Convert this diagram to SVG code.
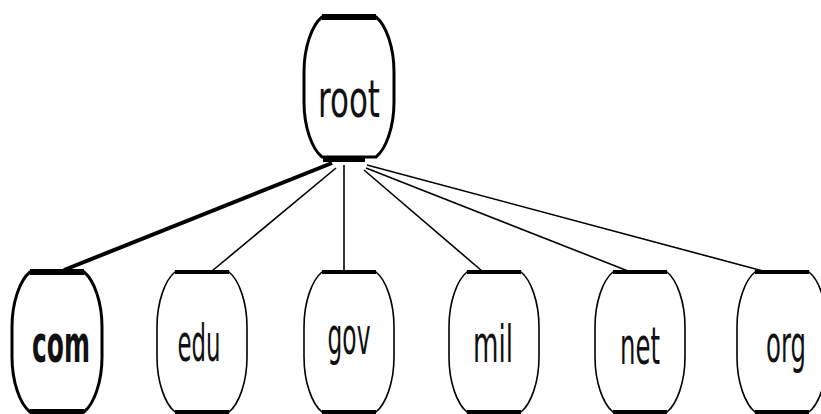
<svg xmlns="http://www.w3.org/2000/svg" xmlns:xlink="http://www.w3.org/1999/xlink" width="821" height="414" viewBox="0 0 821 414">
  <style>
    .shell { fill: #fff; stroke: #000; stroke-width: 1.6; }
    .bold .shell { stroke-width: 3; }
    .bar { stroke: #000; stroke-width: 4; stroke-linecap: butt; }
    .bold .bar { stroke-width: 6; }
    .label { font-family: "DejaVu Sans", "Liberation Sans", sans-serif; font-size: 30px; fill: #111; text-anchor: middle; }
    .bold .label { font-weight: bold; }
    .link { stroke: #000; stroke-width: 1.6; fill: none; }
    .link.heavy { stroke-width: 4; }
  </style>
  <defs>
    <!-- barrel-shaped domain node, centred on x=0, top edge at y=0 -->
    <path id="barrel" d="M-27,0 H27 C37,8 45,30 45,55 V85 C45,110 37,132 27,140 H-27 C-37,132 -45,110 -45,85 V55 C-45,30 -37,8 -27,0 Z"/>
  </defs>
  <rect width="821" height="414" fill="#fff"/>

  <g id="connectors">
    <line class="link heavy" x1="332" y1="163" x2="64" y2="270"/>
    <line class="link" x1="336" y1="168" x2="212" y2="271"/>
    <line class="link" x1="344" y1="165" x2="344" y2="272"/>
    <line class="link" x1="364" y1="170" x2="482" y2="271"/>
    <line class="link" x1="366" y1="168" x2="628" y2="271"/>
    <line class="link" x1="367" y1="165" x2="763" y2="271"/>
  </g>

  <g id="root" class="bold" transform="translate(349,17)">
    <use href="#barrel" class="shell"/>
    <line class="bar" x1="-27" y1="0" x2="27" y2="0"/>
    <line class="bar" x1="-26" y1="142" x2="16" y2="142"/>
    <text class="label" transform="translate(0,100) scale(1,1.73)" textLength="62" lengthAdjust="spacingAndGlyphs" style="font-weight:500">root</text>
  </g>

  <g id="com" class="bold" transform="translate(57,272)">
    <use href="#barrel" class="shell"/>
    <line class="bar" x1="-27" y1="0" x2="27" y2="0"/>
    <line class="bar" x1="-27" y1="140" x2="27" y2="140"/>
    <text class="label" transform="translate(4,90) scale(1,1.73)" textLength="58" lengthAdjust="spacingAndGlyphs">com</text>
  </g>

  <g id="edu" transform="translate(202,272)">
    <use href="#barrel" class="shell"/>
    <line class="bar" x1="-27" y1="0" x2="27" y2="0"/>
    <line class="bar" x1="-27" y1="140" x2="27" y2="140"/>
    <text class="label" transform="translate(-3,89) scale(1,1.73)" textLength="43" lengthAdjust="spacingAndGlyphs">edu</text>
  </g>

  <g id="gov" transform="translate(349,272)">
    <use href="#barrel" class="shell"/>
    <line class="bar" x1="-27" y1="0" x2="27" y2="0"/>
    <line class="bar" x1="-27" y1="140" x2="27" y2="140"/>
    <text class="label" transform="translate(0,82) scale(1,1.73)" textLength="43" lengthAdjust="spacingAndGlyphs">gov</text>
  </g>

  <g id="mil" transform="translate(494,272)">
    <use href="#barrel" class="shell"/>
    <line class="bar" x1="-27" y1="0" x2="27" y2="0"/>
    <line class="bar" x1="-27" y1="140" x2="27" y2="140"/>
    <text class="label" transform="translate(-1,90) scale(1,1.73)" textLength="40" lengthAdjust="spacingAndGlyphs">mil</text>
  </g>

  <g id="net" transform="translate(640,272)">
    <use href="#barrel" class="shell"/>
    <line class="bar" x1="-27" y1="0" x2="27" y2="0"/>
    <line class="bar" x1="-27" y1="140" x2="27" y2="140"/>
    <text class="label" transform="translate(0,92) scale(1,1.73)" textLength="40" lengthAdjust="spacingAndGlyphs">net</text>
  </g>

  <g id="org" transform="translate(782,272)">
    <use href="#barrel" class="shell"/>
    <line class="bar" x1="-27" y1="0" x2="27" y2="0"/>
    <line class="bar" x1="-27" y1="140" x2="27" y2="140"/>
    <text class="label" transform="translate(4,90) scale(1,1.73)" textLength="40" lengthAdjust="spacingAndGlyphs">org</text>
  </g>
</svg>
